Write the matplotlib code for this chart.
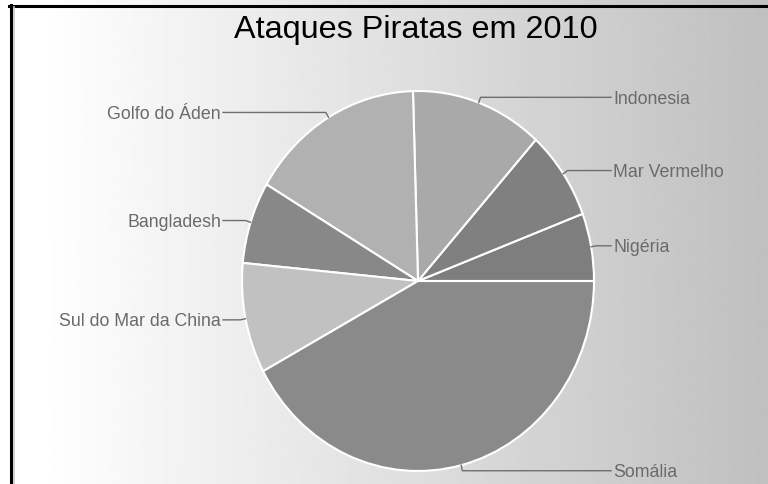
import numpy as np
import matplotlib
matplotlib.use("Agg")
import matplotlib.pyplot as plt

plt.rcParams['font.family'] = ['Liberation Sans', 'DejaVu Sans']

# ataques piratas em 2010 por região
regioes = ["Nigéria", "Mar Vermelho", "Indonesia", "Golfo do Áden",
           "Bangladesh", "Sul do Mar da China", "Somália"]
ataques = [19, 25, 40, 53, 23, 31, 139]
cores = ['#7e7e7e', '#808080', '#a9a9a9', '#b1b1b1', '#888888', '#c1c1c1', '#8a8a8a']

W, H = 768, 484
fig = plt.figure(figsize=(W / 100, H / 100), dpi=100)

# fundo com degradê
bg = fig.add_axes([0, 0, 1, 1])
xs = np.linspace(0, W, 400)
grad = np.clip(1 - 0.25 * (xs - 40) / (W - 40), 0, 1)[None, :]
bg.imshow(grad, aspect='auto', cmap='gray', vmin=0, vmax=1, extent=[0, W, H, 0])
bg.plot([10.5, 10.5], [5, H], color='black', lw=2.2)
bg.plot([9, W], [5.5, 5.5], color='black', lw=2.2)
bg.plot([13.5, 13.5], [7, H], color='#c8c8c8', lw=1.2)
bg.set_xlim(0, W)
bg.set_ylim(H, 0)
bg.axis('off')

fig.text(416 / W, 1 - 30 / H, "Ataques Piratas em 2010", ha='center', va='center',
         fontsize=23.3, color='black')

ax = fig.add_axes([242 / W, 13 / H, 352 / W, 380 / H])
wedges, _ = ax.pie(ataques, colors=cores, startangle=0, counterclock=True,
                   wedgeprops=dict(edgecolor='white', linewidth=1.5))
ax.set_aspect('auto')
ax.set_xlim(-1, 1)
ax.set_ylim(-1, 1)
ax.axis('off')

for w, nome in zip(wedges, regioes):
    ang = np.deg2rad((w.theta1 + w.theta2) / 2)
    x, y = np.cos(ang), np.sin(ang)
    ex, ey = 1.03 * x, 1.03 * y
    if x >= 0:
        xl = 1.097
        ax.plot([x, ex, xl], [y, ey, ey], color='#6e6e6e', lw=1, clip_on=False)
        ax.text(xl + 0.012, ey, nome, ha='left', va='center_baseline', fontsize=12.8,
                color='#6a6a6a', clip_on=False)
    else:
        xl = -1.108
        ax.plot([x, ex, xl], [y, ey, ey], color='#6e6e6e', lw=1, clip_on=False)
        ax.text(xl - 0.012, ey, nome, ha='right', va='center_baseline', fontsize=12.8,
                color='#6a6a6a', clip_on=False)

fig.savefig("out.png", dpi=100)
